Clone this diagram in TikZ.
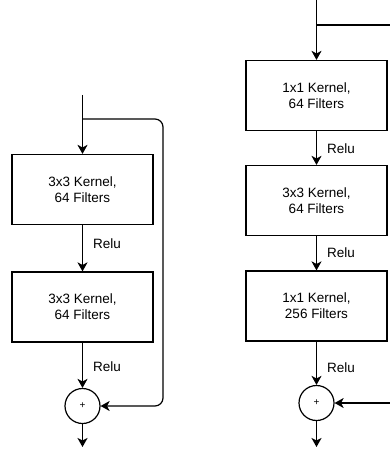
\documentclass[tikz,border=0pt]{standalone}
\usepackage{fontspec}
\setmainfont{Liberation Sans}
\usetikzlibrary{arrows.meta}
\begin{document}
\begin{tikzpicture}[x=1pt,y=-1pt,
  line width=1.2pt,
  box/.style={draw, minimum width=141pt, minimum height=70pt, inner sep=0pt, align=center,
     font=\fontsize{13.5}{15.7}\selectfont},
  sumc/.style={draw, circle, minimum size=35pt, inner sep=0pt, font=\fontsize{10}{12}\selectfont},
  lbl/.style={anchor=west, inner sep=0pt, font=\fontsize{13.5}{15.7}\selectfont},
  arr/.style={-{Stealth[length=9pt,width=10pt,inset=2.5pt]}},
  ]
\useasboundingbox (0,0) rectangle (390,449);
% left block
\coordinate (Ltop) at (82.5,95);
\coordinate (Lbr) at (82.5,119);
\coordinate (Lc1) at (163,119);
\coordinate (Lc2) at (163,406);
\node[box] (L1) at (82.5,189.5) {3x3 Kernel,\\64 Filters};
\node[box] (L2) at (82.5,307) {3x3 Kernel,\\64 Filters};
\node[sumc] (Lp) at (82.5,406) {+};
\coordinate (Lout) at (82.5,447);
\draw[arr] (Ltop) -- (L1.north);
\draw[arr] (L1.south) -- node[lbl, pos=0.4, xshift=10pt] (Lr1) {Relu} (L2.north);
\draw[arr] (L2.south) -- node[lbl, pos=0.53, xshift=10pt] (Lr2) {Relu} (Lp.north);
\draw[arr] (Lp.south) -- (Lout);
\draw[arr, rounded corners=8pt] (Lbr) -- (Lc1) -- (Lc2) -- (Lp.east);
% right block
\coordinate (Rtop) at (316.5,0);
\coordinate (Rbr) at (316.5,25);
\coordinate (Rend) at (390,25);
\coordinate (Rin) at (390,403);
\node[box] (R1) at (316.5,95.5) {1x1 Kernel,\\64 Filters};
\node[box] (R2) at (316.5,200.5) {3x3 Kernel,\\64 Filters};
\node[box] (R3) at (316.5,306) {1x1 Kernel,\\256 Filters};
\node[sumc] (Rp) at (316.5,403) {+};
\coordinate (Rout) at (316.5,447);
\draw[arr] (Rtop) -- (R1.north);
\draw (Rbr) -- (Rend);
\draw[arr] (R1.south) -- node[lbl, pos=0.51, xshift=10pt] (Rr1) {Relu} (R2.north);
\draw[arr] (R2.south) -- node[lbl, pos=0.47, xshift=10pt] (Rr2) {Relu} (R3.north);
\draw[arr] (R3.south) -- node[lbl, pos=0.6, xshift=10pt] (Rr3) {Relu} (Rp.north);
\draw[arr] (Rp.south) -- (Rout);
\draw[arr] (Rin) -- (Rp.east);
\end{tikzpicture}
\end{document}
